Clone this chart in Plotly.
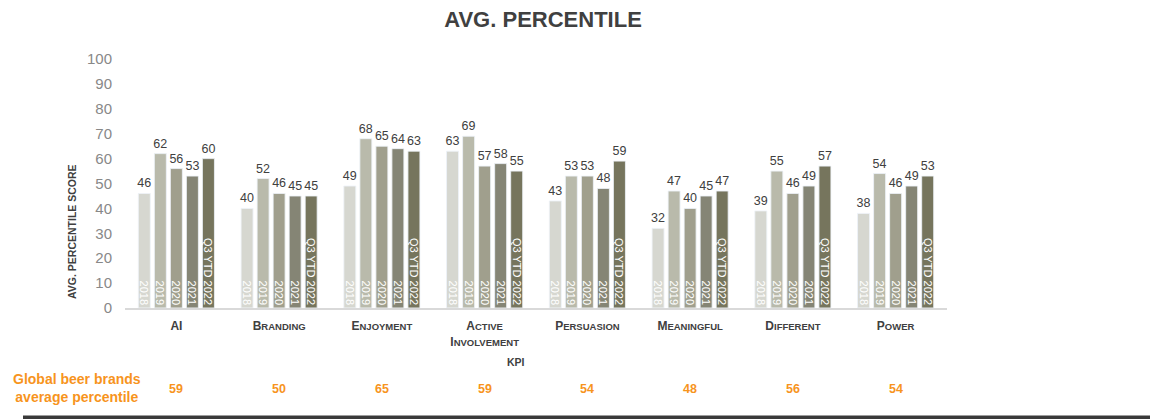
import plotly.graph_objects as go

# KPI categories and yearly average percentile scores
kpis = ["AI", "Branding", "Enjoyment", "Active Involvement", "Persuasion",
        "Meaningful", "Different", "Power"]
series_names = ["2018", "2019", "2020", "2021", "Q3 YTD 2022"]
scores_2018 = [46, 40, 49, 63, 43, 32, 39, 38]
scores_2019 = [62, 52, 68, 69, 53, 47, 55, 54]
scores_2020 = [56, 46, 65, 57, 53, 40, 46, 46]
scores_2021 = [53, 45, 64, 58, 48, 45, 49, 49]
scores_2022 = [60, 45, 63, 55, 59, 47, 57, 53]
global_beer_avg = [59, 50, 65, 59, 54, 48, 56, 54]
y_ticks = list(range(0, 101, 10))

series_values = [scores_2018, scores_2019, scores_2020, scores_2021, scores_2022]
colors = ["#d6d7d0", "#b9baab", "#a09f8d", "#858575", "#76755d"]

FONT = "Liberation Sans, Arial, sans-serif"
DARK = "#404040"
ORANGE = "#f7941d"

# pixel layout of the plotting area
W, H = 1150, 419
L, R, T, B = 125, 203, 59, 111
plot_w = W - L - R
plot_h = H - T - B

PITCH = 0.156   # distance between neighbouring bars inside a group (category units)
BAR_W = 0.117


def px_x(px):
    return (px - L) / plot_w


def px_y(py):
    return (H - B - py) / plot_h


def small_caps(label):
    words = []
    for w in label.split(" "):
        up = w.upper()
        words.append(up[0] + "<span style='font-size:9.5px'>" + up[1:] + "</span>")
    return "<b>" + "<br>".join(words) + "</b>"


tick_text = []
for k in kpis:
    if k == "AI":
        tick_text.append("<b>AI</b>")
    else:
        tick_text.append(small_caps(k))

fig = go.Figure()
for j, (name, vals, col) in enumerate(zip(series_names, series_values, colors)):
    xs = [i + (j - 2) * PITCH for i in range(len(kpis))]
    # coloured bars with the value printed on top
    fig.add_trace(go.Bar(
        x=xs, y=vals, width=BAR_W, name=name,
        marker=dict(color=col, line=dict(color="rgba(255,255,255,0.55)", width=1)),
        text=[str(v) for v in vals], textposition="outside",
        textfont=dict(family=FONT, size=12.5, color=DARK),
        constraintext="none", cliponaxis=False, showlegend=False,
    ))
    # series name written vertically at the foot of each bar
    fig.add_trace(go.Bar(
        x=xs, y=vals, width=BAR_W,
        marker=dict(color="rgba(0,0,0,0)"),
        text=[name] * len(kpis), textposition="inside", insidetextanchor="start",
        textangle=90, textfont=dict(family=FONT, size=11, color="white"),
        constraintext="none", showlegend=False, hoverinfo="skip",
    ))

annotations = [
    dict(text="<b>AVG. PERCENTILE SCORE</b>", textangle=-90, xref="paper", yref="paper",
         x=px_x(72), y=px_y(232), xanchor="center", yanchor="middle", showarrow=False,
         font=dict(family=FONT, size=10.5, color=DARK)),
    dict(text="<b>KPI</b>", xref="paper", yref="paper", x=px_x(516), y=px_y(362),
         xanchor="center", yanchor="middle",
         showarrow=False, font=dict(family=FONT, size=10.5, color=DARK)),
    dict(text="<b>Global beer brands<br>average percentile</b>", xref="paper", yref="paper",
         x=px_x(77), y=px_y(388), xanchor="center", yanchor="middle",
         showarrow=False, align="center",
         font=dict(family=FONT, size=14, color=ORANGE)),
]
for i, v in enumerate(global_beer_avg):
    annotations.append(dict(text="<b>%d</b>" % v, xref="x", yref="paper", x=i,
                            y=px_y(389), xanchor="center", yanchor="middle",
                            showarrow=False,
                            font=dict(family=FONT, size=12.5, color=ORANGE)))

fig.update_layout(
    width=W, height=H,
    margin=dict(l=L, r=R, t=T, b=B, pad=0),
    barmode="overlay",
    plot_bgcolor="white", paper_bgcolor="white",
    font=dict(family=FONT, color=DARK),
    title=dict(text="<b>AVG. PERCENTILE</b>", x=543 / W, xref="container", xanchor="center",
               y=1 - 19 / H, yref="container", yanchor="middle",
               font=dict(family=FONT, size=22, color=DARK)),
    xaxis=dict(range=[-0.5, len(kpis) - 0.5], tickmode="array",
               tickvals=list(range(len(kpis))), ticktext=tick_text,
               tickfont=dict(family=FONT, size=12, color=DARK),
               showgrid=False, zeroline=False, showline=True,
               linecolor="#d9d9d9", linewidth=1.5, ticks="", ticklabelstandoff=6),
    yaxis=dict(range=[0, 100], tickmode="array", tickvals=y_ticks,
               tickfont=dict(family=FONT, size=15, color="#888888"),
               showgrid=False, zeroline=False, showline=False, ticks="",
               ticklabelstandoff=12),
    annotations=annotations,
    shapes=[dict(type="rect", xref="paper", yref="paper",
                 x0=px_x(23), x1=px_x(W + 2), y0=px_y(419.5), y1=px_y(415.5),
                 fillcolor="#3a3a3a", line=dict(width=0), layer="above")],
)

fig.write_html("out.html")
